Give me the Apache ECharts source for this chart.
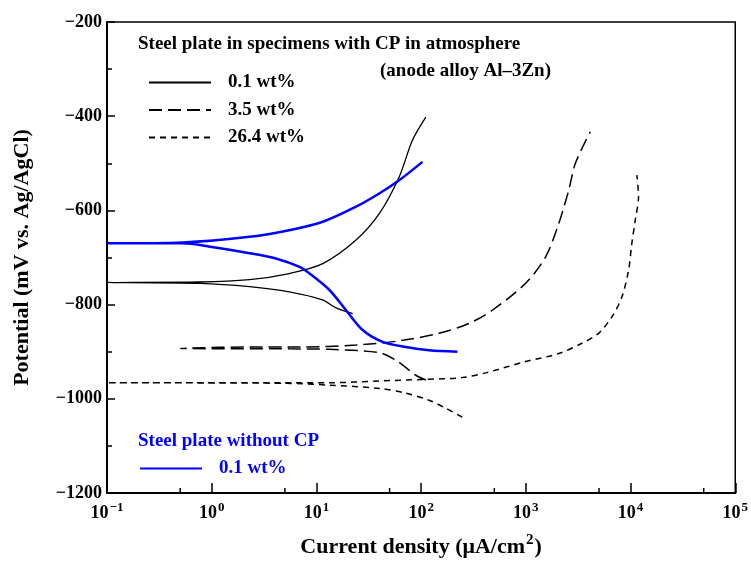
<!DOCTYPE html>
<html>
<head>
<meta charset="utf-8">
<title>Polarization curves</title>
<script src="https://cdn.jsdelivr.net/npm/echarts@6/dist/echarts.min.js"></script>
<style>
  html, body { margin: 0; padding: 0; background: #fff; }
  #chart { width: 751px; height: 568px; }
</style>
</head>
<body>
<div id="chart"></div>
<script>
// current density (uA/cm2) and potential (mV vs Ag/AgCl)
// 0.1 wt% with CP
const cp01AnodX = [0.1, 0.77, 2.3, 5.5, 11.5, 23.9, 39.8, 61.7, 82.6, 111];
const cp01AnodY = [-753, -752, -747, -734, -713, -663, -607, -529, -451, -402];
const cp01CathX = [0.1, 0.77, 2.3, 5.5, 11.4, 15.4, 22.2];
const cp01CathY = [-753, -755, -762, -773, -790, -807, -819];
// 3.5 wt% with CP
const cp35AnodX = [0.5, 2.3, 6.9, 23.9, 61.7, 148, 286, 478, 993, 1541, 2062, 2570, 2974, 4130];
const cp35AnodY = [-893, -890, -890, -886, -877, -861, -840, -812, -755, -699, -628, -557, -500, -433];
const cp35CathX = [0.5, 5.5, 13.3, 39.8, 57.4, 89, 111];
const cp35CathY = [-893, -894, -895, -902, -918, -950, -960];
// 26.4 wt% with CP
const cp264AnodX = [0.1, 13.3, 39.8, 103, 247, 413, 993, 2062, 3436, 4955, 6637, 8265, 9570, 10290, 11090, 11920, 11490];
const cp264AnodY = [-966, -966, -962, -959, -955, -945, -921, -904, -882, -861, -826, -784, -727, -670, -621, -571, -525];
const cp264CathX = [0.1, 5, 13.3, 39.8, 71.4, 119, 172, 247];
const cp264CathY = [-966, -967, -971, -978, -988, -1003, -1020, -1039];
// 0.1 wt% without CP (blue)
const noCpAnodX = [0.1, 0.53, 2.3, 5.5, 11.5, 23.9, 39.8, 61.7, 103];
const noCpAnodY = [-670, -668, -656, -642, -624, -592, -564, -536, -497];
const noCpCathX = [0.1, 0.53, 0.96, 2.3, 4.1, 6.9, 8.6, 13.3, 19.2, 27.6, 42.8, 71.4, 119, 222];
const noCpCathY = [-670, -670, -677, -691, -702, -720, -734, -769, -812, -854, -879, -890, -897, -900];

const xMinorTicks = [0.5, 5, 50, 500, 5000, 50000];

const FONT = "'Liberation Serif', 'Times New Roman', serif";
const BLUE = "#0000ff";

// join the cathodic branch (reversed) and the anodic branch into one path
function curve(cx, cy, ax, ay) {
  const pts = [];
  for (let i = cx.length - 1; i > 0; i--) pts.push([cx[i], cy[i]]);
  for (let i = 0; i < ax.length; i++) pts.push([ax[i], ay[i]]);
  return pts;
}

function lineSeries(name, data, color, width, dash) {
  return {
    name: name,
    type: "line",
    data: data,
    symbol: "none",
    smooth: 0.3,
    lineStyle: { color: color, width: width, type: dash },
    itemStyle: { color: color },
    z: 3
  };
}

const minus = (v) => String(v).replace("-", "\u2212");

const chart = echarts.init(document.getElementById("chart"));
chart.setOption({
  animation: false,
  grid: {
    left: 107, right: 14, top: 22, bottom: 75,
    show: true, borderColor: "#000", borderWidth: 1.5
  },
  xAxis: {
    type: "log",
    logBase: 10,
    min: 0.1,
    max: 100000,
    splitNumber: 6,
    name: "{b|Current density (\u03bcA/cm}{sup|2}{b|)}",
    nameLocation: "middle",
    nameGap: 40,
    nameTextStyle: {
      color: "#000",
      rich: {
        b: { fontFamily: FONT, fontSize: 22, fontWeight: "bold", verticalAlign: "bottom" },
        sup: { fontFamily: FONT, fontSize: 15, fontWeight: "bold", verticalAlign: "bottom", padding: [0, 1, 10, 1] }
      }
    },
    axisLine: { lineStyle: { color: "#000", width: 2 } },
    axisTick: { inside: true, length: 10, lineStyle: { color: "#000", width: 1.5 } },
    splitLine: { show: false },
    axisLabel: {
      margin: 8,
      color: "#000",
      formatter: (v) => "{b|10}{sup|" + minus(Math.round(Math.log10(v))) + "}",
      rich: {
        b: { fontFamily: FONT, fontSize: 18, fontWeight: "bold", verticalAlign: "bottom" },
        sup: { fontFamily: FONT, fontSize: 13, fontWeight: "bold", verticalAlign: "bottom", padding: [0, 0, 8, 1] }
      }
    }
  },
  yAxis: {
    type: "value",
    min: -1200,
    max: -200,
    interval: 200,
    name: "Potential (mV vs. Ag/AgCl)",
    nameLocation: "middle",
    nameGap: 74,
    nameTextStyle: { fontFamily: FONT, fontSize: 22, fontWeight: "bold", color: "#000" },
    axisLine: { lineStyle: { color: "#000", width: 2 } },
    axisTick: { inside: true, length: 8, lineStyle: { color: "#000", width: 1.5 } },
    minorTick: { show: true, splitNumber: 2, length: 5, lineStyle: { color: "#000", width: 1.5 } },
    splitLine: { show: false },
    axisLabel: {
      margin: 5, color: "#000",
      fontFamily: FONT, fontSize: 18, fontWeight: "bold",
      formatter: minus
    }
  },
  legend: [
    {
      orient: "vertical",
      left: 148, top: 73, padding: 0,
      itemWidth: 62, itemHeight: 14, itemGap: 8.5,
      itemStyle: { opacity: 0 },
      data: ["0.1 wt%", "3.5 wt%", "26.4 wt%"],
      textStyle: { fontFamily: FONT, fontSize: 19, lineHeight: 19, fontWeight: "bold", color: "#000", padding: [0, 0, 0, 12] }
    },
    {
      orient: "vertical",
      left: 139, top: 459, padding: 0,
      itemWidth: 62, itemHeight: 14,
      itemStyle: { opacity: 0 },
      data: ["0.1 wt% without CP"],
      formatter: () => "0.1 wt%",
      textStyle: { fontFamily: FONT, fontSize: 19, lineHeight: 19, fontWeight: "bold", color: BLUE, padding: [0, 0, 0, 12] }
    }
  ],
  graphic: [
    { type: "text", left: 138, top: 35, style: { text: "Steel plate in specimens with CP in atmosphere", font: "bold 19px " + FONT, fill: "#000" } },
    { type: "text", left: 380, top: 62, style: { text: "(anode alloy Al\u20133Zn)", font: "bold 19px " + FONT, fill: "#000" } },
    { type: "text", left: 138, top: 432, style: { text: "Steel plate without CP", font: "bold 19px " + FONT, fill: BLUE } }
  ],
  series: [
    lineSeries("0.1 wt%", curve(cp01CathX, cp01CathY, cp01AnodX, cp01AnodY), "#000", 1.3, "solid"),
    lineSeries("3.5 wt%", curve(cp35CathX, cp35CathY, cp35AnodX, cp35AnodY), "#000", 1.5, [13, 6]),
    lineSeries("26.4 wt%", curve(cp264CathX, cp264CathY, cp264AnodX, cp264AnodY), "#000", 1.5, [6, 5]),
    lineSeries("0.1 wt% without CP", curve(noCpCathX, noCpCathY, noCpAnodX, noCpAnodY), BLUE, 2.5, "solid"),
    {
      type: "custom",
      silent: true,
      data: xMinorTicks.map((x) => [x, -1200]),
      renderItem: (params, api) => {
        const p = api.coord([api.value(0), api.value(1)]);
        return {
          type: "line",
          shape: { x1: p[0], y1: p[1], x2: p[0], y2: p[1] - 5 },
          style: { stroke: "#000", lineWidth: 1.5 }
        };
      },
      z: 4
    }
  ]
});
</script>
</body>
</html>
